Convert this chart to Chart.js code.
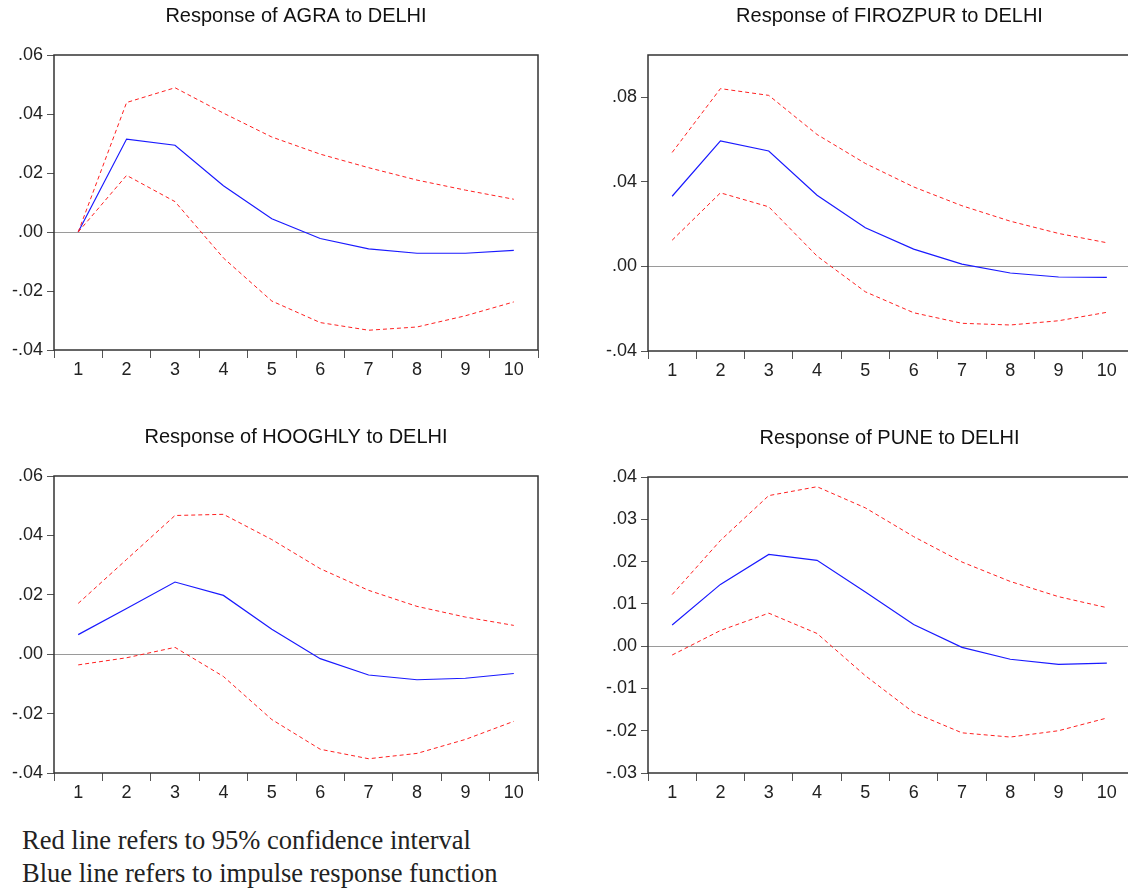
<!DOCTYPE html>
<html>
<head>
<meta charset="utf-8">
<script src="https://cdn.jsdelivr.net/npm/chart.js@4.4.1/dist/chart.umd.min.js"></script>
<style>
  html, body { margin: 0; padding: 0; background: #fff; overflow: hidden; }
  body { width: 1128px; height: 890px; position: relative; }
  canvas { position: absolute; }
  .note {
    position: absolute; left: 22px; top: 824px;
    font-family: "Liberation Serif", "Times New Roman", serif;
    font-size: 26.5px; line-height: 33px; color: #222;
  }
</style>
</head>
<body>
<canvas id="c-agra" width="560" height="390" style="left:0;top:0"></canvas>
<canvas id="c-firozpur" width="545" height="390" style="left:590px;top:0"></canvas>
<canvas id="c-hooghly" width="560" height="390" style="left:0;top:421px"></canvas>
<canvas id="c-pune" width="545" height="390" style="left:590px;top:422px"></canvas>
<div class="note">Red line refers to 95% confidence interval<br>Blue line refers to impulse response function</div>

<script>
// Periods after the shock
const periods = ['1', '2', '3', '4', '5', '6', '7', '8', '9', '10'];

// Response of AGRA to DELHI
const agraIrf   = [0, 0.0315, 0.0294, 0.0157, 0.0045, -0.0022, -0.0057, -0.0072, -0.0072, -0.0062];
const agraUpper = [0, 0.0439, 0.0489, 0.0403, 0.0322, 0.0264, 0.0218, 0.0176, 0.0142, 0.0111];
const agraLower = [0, 0.0192, 0.0103, -0.0088, -0.0234, -0.0307, -0.0333, -0.0322, -0.0284, -0.0237];
const agraTicks = [-0.04, -0.02, 0, 0.02, 0.04, 0.06];

// Response of FIROZPUR to DELHI
const firozpurIrf   = [0.0332, 0.0594, 0.0546, 0.0337, 0.0183, 0.0082, 0.0011, -0.0031, -0.0050, -0.0052];
const firozpurUpper = [0.0539, 0.0841, 0.0809, 0.0624, 0.0487, 0.0376, 0.0287, 0.0214, 0.0156, 0.0112];
const firozpurLower = [0.0124, 0.0348, 0.0282, 0.0049, -0.0120, -0.0219, -0.0269, -0.0277, -0.0257, -0.0217];
const firozpurTicks = [-0.04, 0, 0.04, 0.08];

// Response of HOOGHLY to DELHI
const hooghlyIrf   = [0.0066, 0.0154, 0.0243, 0.0198, 0.0084, -0.0015, -0.0070, -0.0086, -0.0081, -0.0065];
const hooghlyUpper = [0.0171, 0.0319, 0.0467, 0.0471, 0.0386, 0.0288, 0.0215, 0.0161, 0.0125, 0.0097];
const hooghlyLower = [-0.0036, -0.0012, 0.0023, -0.0075, -0.0220, -0.0320, -0.0352, -0.0334, -0.0287, -0.0226];
const hooghlyTicks = [-0.04, -0.02, 0, 0.02, 0.04, 0.06];

// Response of PUNE to DELHI
const puneIrf   = [0.0050, 0.0146, 0.0217, 0.0203, 0.0128, 0.0051, -0.0003, -0.0031, -0.0043, -0.0040];
const puneUpper = [0.0122, 0.0250, 0.0356, 0.0377, 0.0327, 0.0259, 0.0199, 0.0153, 0.0117, 0.0091];
const puneLower = [-0.0021, 0.0037, 0.0078, 0.0030, -0.0070, -0.0157, -0.0205, -0.0215, -0.0200, -0.0170];
const puneTicks = [-0.03, -0.02, -0.01, 0, 0.01, 0.02, 0.03, 0.04];

const FONT = '"Liberation Sans", Arial, sans-serif';

// ".06" / "-.04" style labels
function fmt(v) {
  const s = Math.abs(v).toFixed(2).replace(/^0/, '');
  return (v < -1e-9 ? '-' : '') + s;
}

// zero line under the data, box frame on top
const framePlugin = {
  id: 'frame',
  beforeDatasetsDraw(chart) {
    const { ctx, chartArea: a, scales } = chart;
    const y0 = Math.round(scales.y.getPixelForValue(0)) + 0.5;
    ctx.save();
    ctx.strokeStyle = '#9a9a9a';
    ctx.lineWidth = 1;
    ctx.beginPath();
    ctx.moveTo(a.left, y0);
    ctx.lineTo(a.right, y0);
    ctx.stroke();
    ctx.restore();
  },
  afterDraw(chart) {
    const { ctx, chartArea: a } = chart;
    ctx.save();
    ctx.strokeStyle = '#333';
    ctx.lineWidth = 1.5;
    ctx.strokeRect(a.left, a.top, a.right - a.left, a.bottom - a.top);
    ctx.restore();
  }
};

function band(data) {
  return {
    data, borderColor: '#ff2020', borderWidth: 1, borderDash: [4, 3],
    pointRadius: 0, tension: 0, fill: false
  };
}

function makePanel(id, title, irf, upper, lower, yMin, yMax, ticks, box) {
  const ctx = document.getElementById(id);
  return new Chart(ctx, {
    type: 'line',
    data: {
      labels: periods,
      datasets: [
        band(upper),
        band(lower),
        { data: irf, borderColor: '#1a1aff', borderWidth: 1.2, pointRadius: 0, tension: 0, fill: false }
      ]
    },
    plugins: [framePlugin],
    options: {
      responsive: false,
      animation: false,
      layout: { padding: { left: 0, right: box.padRight, top: 0, bottom: 0 } },
      plugins: {
        legend: { display: false },
        tooltip: { enabled: false },
        title: {
          display: true,
          text: title,
          fullSize: false,
          color: '#111',
          font: { family: FONT, size: 20, weight: 'normal', lineHeight: 1.2 },
          padding: { top: 4, bottom: 27 }
        }
      },
      scales: {
        x: {
          offset: true,
          afterFit: s => { s.height = box.xh; },
          border: { display: false },
          grid: { offset: true, drawOnChartArea: false, tickLength: 8, color: '#555' },
          ticks: { padding: 1, color: '#222', font: { family: FONT, size: 18 }, maxRotation: 0, autoSkip: false }
        },
        y: {
          min: yMin,
          max: yMax,
          afterBuildTicks: s => { s.ticks = ticks.map(v => ({ value: v })); },
          afterFit: s => { s.width = box.yw; },
          border: { display: false },
          grid: { drawOnChartArea: false, tickLength: 7, color: '#555' },
          ticks: { padding: 4, color: '#222', font: { family: FONT, size: 18 }, callback: v => fmt(v) }
        }
      }
    }
  });
}

window.addEventListener('DOMContentLoaded', () => {
  makePanel('c-agra', 'Response of AGRA to DELHI', agraIrf, agraUpper, agraLower,
    -0.04, 0.06, agraTicks, { yw: 54, xh: 40, padRight: 22 });
  makePanel('c-firozpur', 'Response of FIROZPUR to DELHI', firozpurIrf, firozpurUpper, firozpurLower,
    -0.04, 0.10, firozpurTicks, { yw: 58, xh: 39, padRight: 4 });
  makePanel('c-hooghly', 'Response of HOOGHLY to DELHI', hooghlyIrf, hooghlyUpper, hooghlyLower,
    -0.04, 0.06, hooghlyTicks, { yw: 54, xh: 38, padRight: 22 });
  makePanel('c-pune', 'Response of PUNE to DELHI', puneIrf, puneUpper, puneLower,
    -0.03, 0.04, puneTicks, { yw: 58, xh: 39, padRight: 4 });
});
</script>
</body>
</html>
